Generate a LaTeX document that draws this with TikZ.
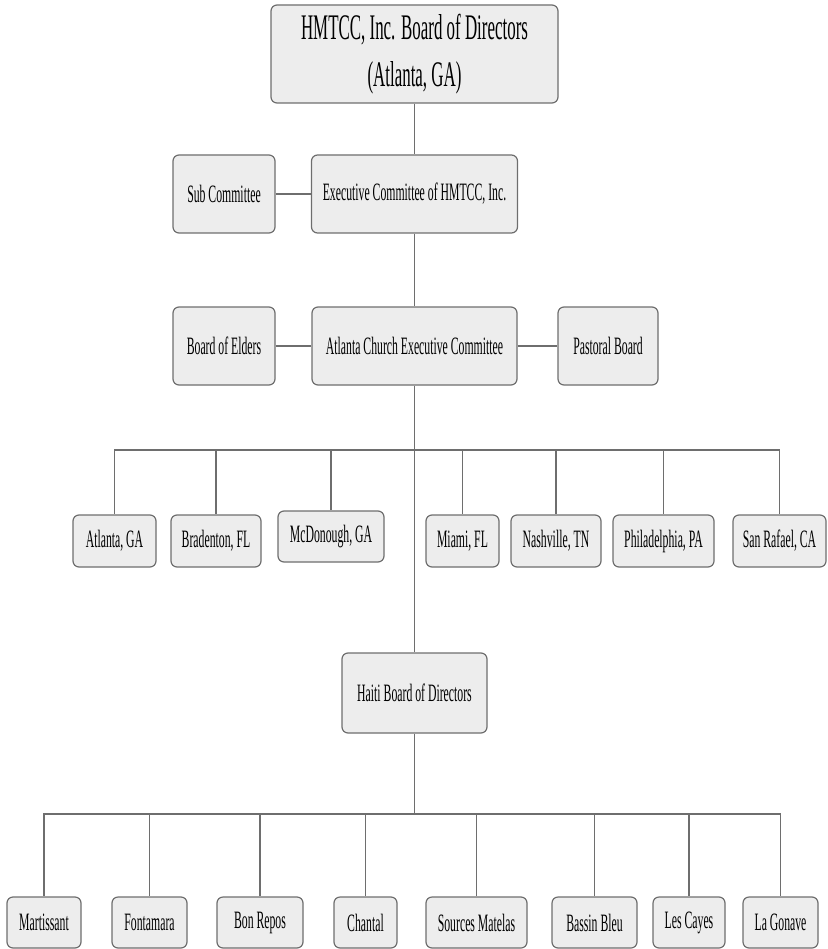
\documentclass[tikz,border=0pt]{standalone}
\usepackage{fontspec}
\setmainfont[FakeStretch=0.47]{Liberation Serif}
\definecolor{boxfill}{HTML}{EDEDED}
\definecolor{boxline}{HTML}{6E6E6E}
\begin{document}
\begin{tikzpicture}[x=1pt, y=-1pt]
\tikzset{unite/.style={draw=boxline, fill=boxfill, line width=1.2pt, rounded corners=6pt, inner sep=2pt, font=\fontsize{25}{30}\selectfont},
  lien/.style={draw=boxline, line width=1.2pt}}
\useasboundingbox (0,0) rectangle (827,949);
\node[unite, minimum width=287pt, minimum height=98pt, align=center, font=\fontsize{36}{47}\selectfont] (Top) at (414.5,54) {HMTCC, Inc. Board of Directors\\(Atlanta, GA)};
\node[unite, minimum width=206pt, minimum height=78pt] (Exec) at (414.5,194) {Executive Committee of HMTCC, Inc.};
\node[unite, minimum width=102pt, minimum height=78pt] (Sub) at (224,194) {Sub Committee};
\node[unite, minimum width=205pt, minimum height=78pt] (Church) at (414.5,346) {Atlanta Church Executive Committee};
\node[unite, minimum width=102pt, minimum height=78pt] (Elders) at (224,346) {Board of Elders};
\node[unite, minimum width=100pt, minimum height=78pt] (Pastor) at (608,346) {Pastoral Board};
\node[unite, minimum width=83pt, minimum height=52pt] (C1) at (114.5,541) {Atlanta, GA};
\node[unite, minimum width=90pt, minimum height=52pt] (C2) at (216,541) {Bradenton, FL};
\node[unite, minimum width=106pt, minimum height=51pt] (C3) at (331,536.5) {McDonough, GA};
\node[unite, minimum width=73pt, minimum height=52pt] (C4) at (462.5,541) {Miami, FL};
\node[unite, minimum width=90pt, minimum height=52pt] (C5) at (556,541) {Nashville, TN};
\node[unite, minimum width=101pt, minimum height=52pt] (C6) at (663.5,541) {Philadelphia, PA};
\node[unite, minimum width=93pt, minimum height=52pt] (C7) at (779.5,541) {San Rafael, CA};
\node[unite, minimum width=145pt, minimum height=80pt] (Haiti) at (414.5,693) {Haiti Board of Directors};
\node[unite, minimum width=74pt, minimum height=51pt] (H1) at (44,922.5) {Martissant};
\node[unite, minimum width=75pt, minimum height=51pt] (H2) at (149.5,922.5) {Fontamara};
\node[unite, minimum width=86pt, minimum height=51pt] (H3) at (260,922.5) {Bon Repos};
\node[unite, minimum width=63pt, minimum height=51pt] (H4) at (365.5,922.5) {Chantal};
\node[unite, minimum width=101pt, minimum height=51pt] (H5) at (476.5,922.5) {Sources Matelas};
\node[unite, minimum width=85pt, minimum height=51pt] (H6) at (594.5,922.5) {Bassin Bleu};
\node[unite, minimum width=72pt, minimum height=51pt] (H7) at (689,922.5) {Les Cayes};
\node[unite, minimum width=75pt, minimum height=51pt] (H8) at (780.5,922.5) {La Gonave};
\coordinate (Cbus) at (414.5,450);
\coordinate (Hbus) at (414.5,814);
\draw[lien] (Top) -- (Exec);
\draw[lien] (Sub) -- (Exec);
\draw[lien] (Exec) -- (Church);
\draw[lien] (Elders) -- (Church);
\draw[lien] (Church) -- (Pastor);
\draw[lien] (Church) -- (Haiti);
\draw[lien] (Cbus) -| (C1);
\draw[lien] (Cbus) -| (C2);
\draw[lien] (Cbus) -| (C3);
\draw[lien] (Cbus) -| (C4);
\draw[lien] (Cbus) -| (C5);
\draw[lien] (Cbus) -| (C6);
\draw[lien] (Cbus) -| (C7);
\draw[lien] (Haiti) -- (Hbus);
\draw[lien] (Hbus) -| (H1);
\draw[lien] (Hbus) -| (H2);
\draw[lien] (Hbus) -| (H3);
\draw[lien] (Hbus) -| (H4);
\draw[lien] (Hbus) -| (H5);
\draw[lien] (Hbus) -| (H6);
\draw[lien] (Hbus) -| (H7);
\draw[lien] (Hbus) -| (H8);
\end{tikzpicture}
\end{document}
